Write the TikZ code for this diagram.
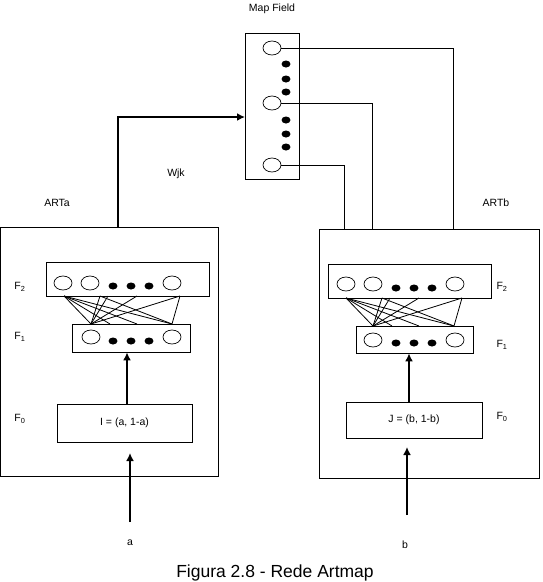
\documentclass[tikz,border=0pt]{standalone}
\usepackage{fontspec}
\setmainfont{Liberation Sans}
\usepackage{tikz}
\usetikzlibrary{shapes.geometric,arrows.meta}
\tikzstyle{Layer}=[rectangle, draw=black, line width=0.8pt, inner sep=0]
\tikzstyle{Unit}=[ellipse, draw=black, line width=0.7pt, fill=white, minimum width=18, minimum height=14, inner sep=0]
\tikzstyle{Spot}=[ellipse, fill=black, minimum width=9, minimum height=7, inner sep=0]
\tikzstyle{Txt}=[font=\fontsize{10.5}{12}\selectfont, inner sep=0]
\tikzstyle{Wire}=[line width=0.8pt]
\tikzstyle{Feed}=[line width=2.6pt, -{Latex[length=8pt,width=8pt]}]

\begin{document}
\begin{tikzpicture}[x=1pt, y=-1pt]
    \useasboundingbox (0,0) rectangle (543,582);
    \path
    (272,106) node[Layer, minimum width=54, minimum height=146] (mapfield) {}
    (109.5,351.5) node[Layer, minimum width=218, minimum height=249] (arta) {}
    (429,353.5) node[Layer, minimum width=220, minimum height=249] (artb) {}
    (127.5,279) node[Layer, minimum width=163, minimum height=34] (a2) {}
    (131,338) node[Layer, minimum width=118, minimum height=28] (a1) {}
    (124.5,423) node[Layer, minimum width=135, minimum height=38, Txt] (a0) {I = (a, 1-a)}
    (409.5,281) node[Layer, minimum width=163, minimum height=34] (b2) {}
    (414.5,339.5) node[Layer, minimum width=117, minimum height=27] (b1) {}
    (414,420) node[Layer, minimum width=136, minimum height=36, Txt] (b0) {J = (b, 1-b)};

    \path (272,48) node[Unit] (mf1) {}
    (272,103) node[Unit] (mf2) {}
    (272,165) node[Unit] (mf3) {};
    \foreach \y [count=\i] in {64,79,92,120,134,147}
        \path (286,\y) node[Spot] (mfd\i) {};

    \path (63,283) node[Unit] (a21) {}
    (90,283) node[Unit] (a22) {}
    (172,283) node[Unit] (a23) {}
    (91,337) node[Unit] (a11) {}
    (172,337) node[Unit] (a12) {}
    (346,284) node[Unit] (b21) {}
    (373,284) node[Unit] (b22) {}
    (455,284) node[Unit] (b23) {}
    (373,340) node[Unit] (b11) {}
    (455,340) node[Unit] (b12) {};
    \foreach \x [count=\i] in {113,131,149} {
        \path (\x,286) node[Spot] (a2d\i) {}
        (\x,341) node[Spot] (a1d\i) {}
        (\x+283,288) node[Spot] (b2d\i) {}
        (\x+283,343) node[Spot] (b1d\i) {};
    }

    \path (272,9) node[Txt] (mftitle) {Map Field}
    (176,174) node[Txt] (wjk) {Wjk}
    (57,203) node[Txt] (artaname) {ARTa}
    (496,203) node[Txt] (artbname) {ARTb}
    (20,287) node[Txt] (af2) {F\textsubscript{2}}
    (20,337) node[Txt] (af1) {F\textsubscript{1}}
    (20,419) node[Txt] (af0) {F\textsubscript{0}}
    (502,287) node[Txt] (bf2) {F\textsubscript{2}}
    (502,345) node[Txt] (bf1) {F\textsubscript{1}}
    (502,417) node[Txt] (bf0) {F\textsubscript{0}}
    (130,543) node[Txt] (ina) {a}
    (405,545) node[Txt] (inb) {b}
    (275,573) node[font=\fontsize{17.5}{20}\selectfont, inner sep=0] (caption) {Figura 2.8 - Rede Artmap};

    \foreach \n/\dx/\dy in {a/0/0, b/282/2} {
        \foreach \x [count=\i] in {64,100,108,137,180}
            \coordinate (\n top\i) at (\x+\dx,296+\dy);
        \foreach \x [count=\i] in {91,110,137,172}
            \coordinate (\n bot\i) at (\x+\dx,324+\dy);
        \foreach \t/\b in {1/1,1/2,1/3,1/4,2/1,2/4,3/1,4/1,5/1,5/4}
            \draw[Wire] (\n top\t) -- (\n bot\b);
    }

    \coordinate (bt1) at (453,229);
    \coordinate (bt2) at (372,229);
    \coordinate (bt3) at (344,229);
    \draw[Wire] (mf1.east) -| (bt1);
    \draw[Wire] (mf2.east) -| (bt2);
    \draw[Wire] (mf3.east) -| (bt3);

    \coordinate (aout) at (118,227);
    \coordinate (mfin) at (245,117);
    \draw[Feed] (aout) |- (mfin);
    \draw[Feed] ([xshift=2.5]a0.north) -- ([xshift=-4]a1.south);
    \draw[Feed] ([xshift=-5]b0.north) -- ([xshift=-5.5]b1.south);
    \coordinate (asrc) at (130,522);
    \coordinate (atip) at (130,453);
    \coordinate (bsrc) at (407,515);
    \coordinate (btip) at (407,447);
    \draw[Feed] (asrc) -- (atip);
    \draw[Feed] (bsrc) -- (btip);
\end{tikzpicture}
\end{document}
